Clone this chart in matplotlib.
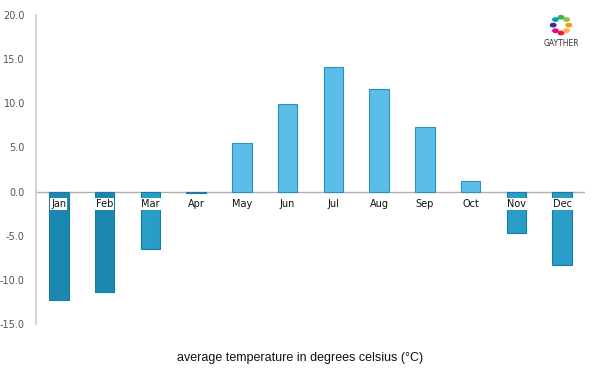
import numpy as np
import matplotlib
matplotlib.use("Agg")
import matplotlib.pyplot as plt
from matplotlib.patches import Circle

months = ["Jan", "Feb", "Mar", "Apr", "May", "Jun", "Jul", "Aug", "Sep", "Oct", "Nov", "Dec"]
temps = [-12.3, -11.4, -6.5, -0.2, 5.5, 9.9, 14.1, 11.6, 7.3, 1.2, -4.7, -8.3]
yticks = [-15.0, -10.0, -5.0, 0.0, 5.0, 10.0, 15.0, 20.0]

# colour per bar: warm months light blue, cold ones darker
def bar_color(v):
    if v >= 0:
        return "#5bbde8"
    if v < -10 or v > -1:
        return "#1a88b0"
    return "#279dc7"

colors = [bar_color(v) for v in temps]
edges = ["#2b8fbf" if v >= 0 else "#1a7aa0" for v in temps]

fig = plt.figure(figsize=(6, 3.75), dpi=100)
ax = fig.add_axes([0.06, 0.136, 0.915, 0.824])

x = np.arange(len(months))
ax.bar(x, temps, width=0.43, color=colors, edgecolor=edges, linewidth=0.8, zorder=2)
ax.axhline(0, color="#b0b0b0", linewidth=1, zorder=1)

ax.set_xlim(-0.5, 11.5)
ax.set_ylim(-15, 20)
ax.set_yticks(yticks)
ax.set_yticklabels([f"{t:.1f}" for t in yticks], fontsize=7, color="#555555")
ax.set_xticks([])

for s in ["top", "right", "bottom"]:
    ax.spines[s].set_visible(False)
ax.spines["left"].set_color("#cccccc")
ax.spines["left"].set_linewidth(1.2)
ax.tick_params(axis="y", length=0, pad=8)

# month labels sit just under the zero line, boxed where they overlap a bar
for i, (m, v) in enumerate(zip(months, temps)):
    box = dict(boxstyle="square,pad=0.1", fc="white", ec="none") if v < -1 else None
    ax.text(i, -1.45, m, ha="center", va="center", fontsize=7,
            color="#111111", zorder=3, bbox=box)

fig.text(0.5, 0.045, "average temperature in degrees celsius (°C)", ha="center",
         va="center", fontsize=9, family="Liberation Sans", color="#111111")

# little logo top right
logo_cols = ["#f7941d", "#8dc63f", "#39b54a", "#00a0c6", "#2e3192", "#ec008c", "#ed1c24", "#fbb040"]
ang = np.linspace(0, 2 * np.pi, len(logo_cols), endpoint=False)
for a, c in zip(ang, logo_cols):
    fig.patches.append(Circle((0.935 + 0.013 * np.cos(a), 0.933 + 0.021 * np.sin(a)), 0.0045,
                              transform=fig.transFigure, color=c, figure=fig))
fig.text(0.935, 0.885, "GAYTHER", ha="center", va="center", fontsize=5.5, color="#333333")

fig.savefig("out.png", dpi=100)
